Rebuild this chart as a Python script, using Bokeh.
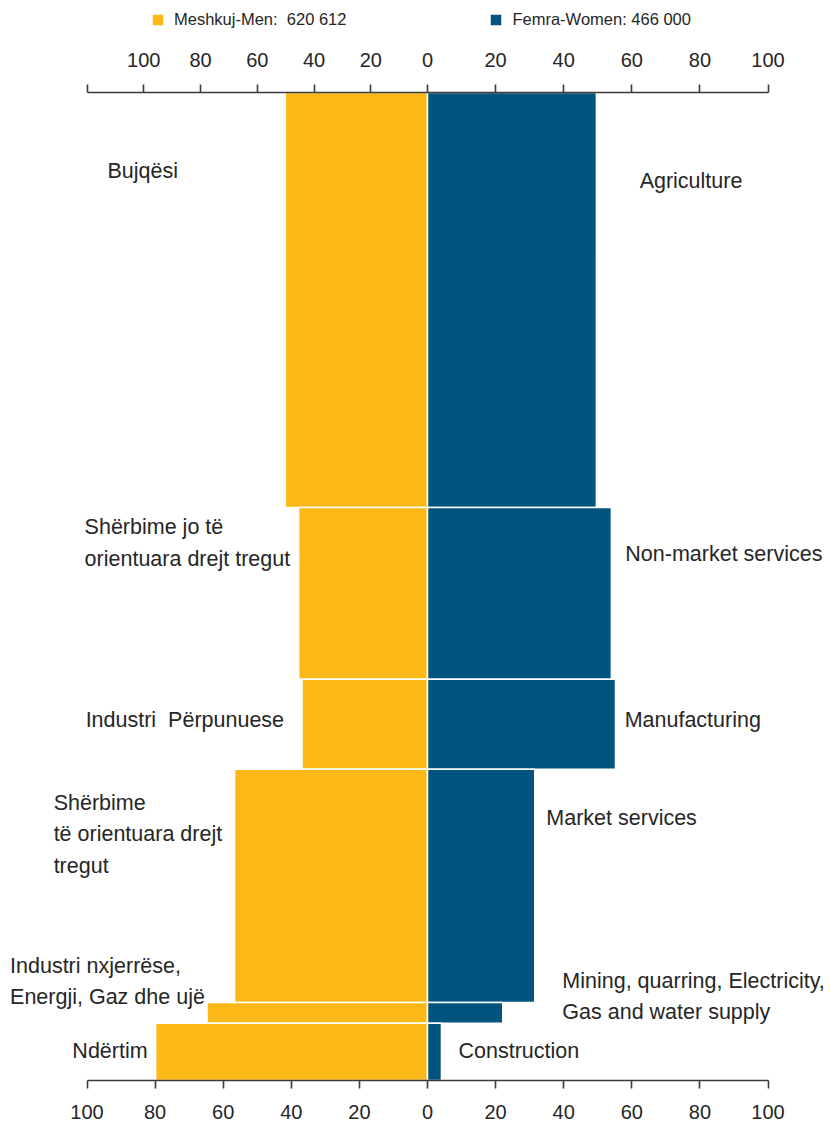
import numpy as np
from bokeh.plotting import figure
from bokeh.models import (Range1d, LinearAxis, FixedTicker, CustomJSTickFormatter,
                          Legend, LegendItem, ColumnDataSource)
from bokeh.core.properties import value
from bokeh.embed import file_html
from bokeh.resources import INLINE

# ---------------- data ----------------
sectors_sq = ["Bujqësi", "Shërbime jo të\norientuara drejt tregut", "Industri\u00a0 Përpunuese",
              "Shërbime\ntë orientuara drejt\ntregut", "Industri nxjerrëse,\nEnergji, Gaz dhe ujë",
              "Ndërtim"]
sectors_en = ["Agriculture", "Non-market services", "Manufacturing", "Market services",
              "Mining, quarring, Electricity,\nGas and water supply", "Construction"]
employment_share = [42.0, 17.4, 9.1, 23.6, 2.1, 5.8]   # bar heights (% of employed)
men_pct = [50.1, 45.4, 44.2, 68.0, 77.7, 95.8]          # % men within sector
women_pct = [49.6, 54.0, 55.2, 31.5, 22.1, 4.1]         # % women within sector
men_total = "620 612"
women_total = "466 000"
axis_ticks = [0, 20, 40, 60, 80, 100]

# ---------------- layout / style ----------------
ORANGE = "#FBB817"
BLUE = "#02547F"
TXT = "#262626"
AX = "#3a3a3a"
FONT = "Liberation Sans"
MEN_SCALE = 1.2            # men side of top axis is drawn compressed in the original

W, H = 831, 1127
PX_X = 3.405               # pixels per x unit
PX_Y = 9.88                # pixels per y unit
X0, YTOP, YBOT = 427, 92, 1080

share = np.array(employment_share)
tops = share[::-1].cumsum()[::-1]
bottoms = tops - share
mids = (tops + bottoms) / 2
total = float(share.sum())

x_left, x_right = -X0 / PX_X, (W - X0) / PX_X
y_lo, y_hi = -(H - YBOT) / PX_Y, total + YTOP / PX_Y

p = figure(width=W, height=H, x_range=Range1d(x_left, x_right),
           y_range=Range1d(y_lo, y_hi), output_backend="svg", toolbar_location=None,
           x_axis_location=None, y_axis_location=None, min_border=0)
p.min_border_left = p.min_border_right = p.min_border_top = p.min_border_bottom = 0
p.extra_x_ranges = {"men": Range1d(-x_left * MEN_SCALE, -x_right * MEN_SCALE)}
p.outline_line_color = None
p.grid.visible = False
p.background_fill_color = "white"

src = ColumnDataSource(dict(y=mids, h=share, men=men_pct, women=women_pct))
men_r = p.hbar(y="y", height="h", left=0, right="men", source=src, x_range_name="men",
               fill_color=ORANGE, line_color="white", line_width=1.5)
women_r = p.hbar(y="y", height="h", left=0, right="women", source=src,
                 fill_color=BLUE, line_color="white", line_width=1.5)

def style_axis(ax, standoff):
    ax.axis_line_color = AX
    ax.axis_line_width = 1.6
    ax.major_tick_line_color = AX
    ax.major_tick_line_width = 1.6
    ax.minor_tick_line_color = AX
    ax.minor_tick_line_width = 1.6
    ax.major_tick_in = 0
    ax.major_tick_out = 8
    ax.minor_tick_in = 0
    ax.minor_tick_out = 8
    ax.major_label_text_font = FONT
    ax.major_label_text_font_size = "20px"
    ax.major_label_text_color = TXT
    ax.major_label_standoff = standoff

men_positions = sorted(-v / MEN_SCALE for v in axis_ticks[1:])
top_axis = LinearAxis(
    fixed_location=total, bounds=(-100, 100),
    ticker=FixedTicker(ticks=men_positions + axis_ticks, minor_ticks=[-100]),
    formatter=CustomJSTickFormatter(
        code="return tick < 0 ? String(Math.round(-tick*%s)) : String(tick)" % MEN_SCALE))
style_axis(top_axis, 18)
p.add_layout(top_axis, "above")

bottom_ticks = [-t for t in axis_ticks[:0:-1]] + axis_ticks
bottom_axis = LinearAxis(
    fixed_location=0, bounds=(-100, 100), ticker=FixedTicker(ticks=bottom_ticks),
    formatter=CustomJSTickFormatter(code="return String(Math.abs(tick))"))
style_axis(bottom_axis, 16)
p.add_layout(bottom_axis, "below")

# category labels (positions in data units)
sq_x = [-94.0, -100.7, -100.4, -109.8, -122.6, -104.3]
sq_y = [92.1, 54.4, 36.5, 24.9, 10.0, 3.0]
en_x = [62.3, 58.1, 57.9, 34.9, 39.6, 9.1]
en_y = [91.0, 53.3, 36.5, 26.6, 8.5, 3.0]
for xs, ys, texts in ((sq_x, sq_y, sectors_sq), (en_x, en_y, sectors_en)):
    p.text(x=xs, y=ys, text=texts, text_font=value(FONT), text_font_size="21.5px",
           text_color=TXT, text_baseline="middle", text_align="left", text_line_height=1.31)

legend = Legend(items=[LegendItem(label=f"Meshkuj-Men:  {men_total}", renderers=[men_r]),
                       LegendItem(label=f"Femra-Women: {women_total}", renderers=[women_r])],
                orientation="horizontal", location=(150, H - 29), spacing=142, padding=0,
                margin=0, border_line_color=None, background_fill_alpha=0,
                glyph_width=15, glyph_height=15, label_standoff=9,
                label_text_font=FONT, label_text_font_size="16.5px", label_text_color=TXT)
p.add_layout(legend)

open("out.html", "w").write(file_html(p, INLINE))
